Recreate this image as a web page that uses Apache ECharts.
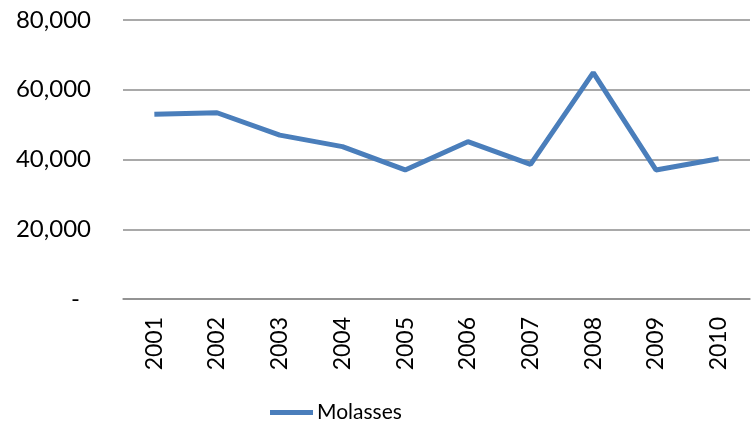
<!DOCTYPE html>
<html><head><meta charset="utf-8">
<script src="https://cdn.jsdelivr.net/npm/echarts@6/dist/echarts.min.js"></script>
<style>html,body{margin:0;padding:0;background:#fff}#c{width:753px;height:424px}</style>
</head><body><div id="c"></div>
<script>
const years = ['2001','2002','2003','2004','2005','2006','2007','2008','2009','2010'];
const molasses = [53000, 53400, 47000, 43700, 37000, 45100, 38600, 64900, 37000, 40200];
const seriesName = 'Molasses';
const yTicks = [0, 20000, 40000, 60000, 80000];

const chart = echarts.init(document.getElementById('c'));
const font = 'Lato, "Open Sans", sans-serif';
chart.setOption({
  animation: false,
  grid: {left: 123, right: 3, top: 20, bottom: 125},
  xAxis: {
    type: 'category', data: years, boundaryGap: true,
    axisLine: {show: true, lineStyle: {color: '#8c8c8c', width: 1.5}},
    axisTick: {show: false},
    axisLabel: {rotate: 90, margin: 18, color: '#000', fontSize: 23, fontFamily: font}
  },
  yAxis: {
    type: 'value', min: yTicks[0], max: yTicks[yTicks.length-1], interval: 20000,
    axisLine: {show: false}, axisTick: {show: false},
    splitLine: {lineStyle: {color: '#8c8c8c', width: 1.5}},
    axisLabel: {
      margin: 32, color: '#000', fontSize: 24, fontFamily: font,
      formatter: v => v === 0 ? '{d|-}' : v.toLocaleString('en-US'),
      rich: {d: {padding: [0, 11, 0, 0], fontSize: 24, fontFamily: font, color: '#000'}}
    }
  },
  legend: {
    bottom: 1, left: 270, padding: 0, icon: 'rect', itemWidth: 43, itemHeight: 5, itemGap: 5,
    textStyle: {color: '#000', fontSize: 21, fontFamily: font, padding: [0,0,0,-1]},
    data: [seriesName]
  },
  series: [{
    name: seriesName, type: 'line', data: molasses, symbol: 'none',
    lineStyle: {color: '#4a7ebb', width: 5}, itemStyle: {color: '#4a7ebb'}
  }]
});
</script></body></html>
